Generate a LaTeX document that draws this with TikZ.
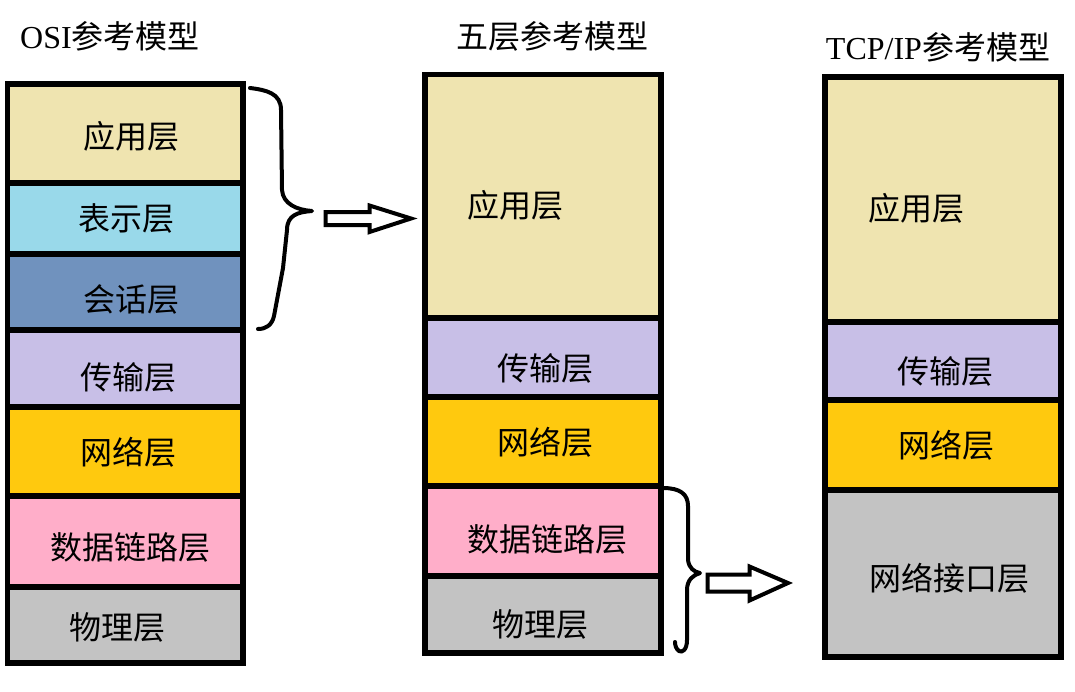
\documentclass[tikz,border=0pt]{standalone}
\usepackage{fontspec}
\setmainfont{Liberation Serif}
\newfontfamily\cjk{Noto Sans CJK SC}
\definecolor{ctan}{HTML}{EFE4B0}
\definecolor{cturq}{HTML}{99D9EA}
\definecolor{cblue}{HTML}{7092BE}
\definecolor{clav}{HTML}{C8BFE7}
\definecolor{cgold}{HTML}{FFC90E}
\definecolor{crose}{HTML}{FFAEC9}
\definecolor{cgray}{HTML}{C3C3C3}
\tikzset{
  cell/.style={draw=black, line width=5.5pt, inner sep=0pt, outer sep=0pt},
  c1/.style={cell, minimum width=235.5pt},
  c2/.style={cell, minimum width=236pt},
  lbl/.style={font=\cjk\fontsize{32}{32}\selectfont, inner sep=0pt},
  ttl/.style={font=\fontsize{32}{32}\selectfont, inner sep=0pt},
  brace/.style={draw=black, line width=4pt, line cap=round, line join=round},
  blockarrow/.style={draw=black, line width=4pt, line join=miter, fill=white}
}
\begin{document}
\begin{tikzpicture}[x=1pt,y=-1pt]
\useasboundingbox (0,0) rectangle (1075,691);
% titles
\node[ttl] (title1) at (110,36) {OSI{\cjk 参考模型}};
\node[ttl] (title2) at (552,36) {\cjk 五层参考模型};
\node[ttl] (title3) at (938,47) {TCP/IP{\cjk 参考模型}};
% OSI column
\node[c1, fill=ctan,  minimum height=99pt] (o1) at (125.25,133.5) {};
\node[c1, fill=cturq, minimum height=71pt] (o2) at (125.25,218.5) {};
\node[c1, fill=cblue, minimum height=76pt] (o3) at (125.25,292) {};
\node[c1, fill=clav,  minimum height=77pt] (o4) at (125.25,368.5) {};
\node[c1, fill=cgold, minimum height=89pt] (o5) at (125.25,451.5) {};
\node[c1, fill=crose, minimum height=91pt] (o6) at (125.25,541.5) {};
\node[c1, fill=cgray, minimum height=76pt] (o7) at (125.25,625) {};
\node[lbl] (lo1) at (131,136) {应用层};
\node[lbl] (lo2) at (126,218) {表示层};
\node[lbl] (lo3) at (131,299) {会话层};
\node[lbl] (lo4) at (128,377) {传输层};
\node[lbl] (lo5) at (128,452) {网络层};
\node[lbl] (lo6) at (130,547) {数据链路层};
\node[lbl] (lo7) at (117,627) {物理层};
% five-layer column
\node[c2, fill=ctan,  minimum height=243.5pt] (f1) at (543,196.25) {};
\node[c2, fill=clav,  minimum height=79pt] (f2) at (543,357.5) {};
\node[c2, fill=cgold, minimum height=89pt] (f3) at (543,441.5) {};
\node[c2, fill=crose, minimum height=90pt] (f4) at (543,531) {};
\node[c2, fill=cgray, minimum height=77pt] (f5) at (543,614.5) {};
\node[lbl] (lf1) at (515,205) {应用层};
\node[lbl] (lf2) at (545,368) {传输层};
\node[lbl] (lf3) at (545,442) {网络层};
\node[lbl] (lf4) at (547,539) {数据链路层};
\node[lbl] (lf5) at (540,624) {物理层};
% TCP/IP column
\node[c2, fill=ctan,  minimum height=245pt] (t1) at (943,199.5) {};
\node[c2, fill=clav,  minimum height=78pt] (t2) at (943,361) {};
\node[c2, fill=cgold, minimum height=90pt] (t3) at (943,445) {};
\node[c2, fill=cgray, minimum height=167pt] (t4) at (943,573.5) {};
\node[lbl] (lt1) at (916,208) {应用层};
\node[lbl] (lt2) at (945,371) {传输层};
\node[lbl] (lt3) at (946,445) {网络层};
\node[lbl] (lt4) at (949,578) {网络接口层};
% brace 1
\coordinate (b1s) at (250,88);
\coordinate (b1t) at (312,211);
\coordinate (b1e) at (258,329);
\draw[brace] (b1s) .. controls (266,90) and (281,93) .. (281,110) -- (282,190)
  .. controls (283,204) and (297,210) .. (b1t)
  .. controls (298,212) and (287,215) .. (287,230) -- (283,268) -- (274,316)
  .. controls (272,325) and (266,329) .. (b1e);
% arrow 1
\draw[blockarrow] (325.5,212) -- (369.5,212) -- (369.5,205.5) -- (411,218.5)
  -- (369.5,232) -- (369.5,225) -- (325.5,225) -- cycle;
% brace 2
\coordinate (b2s) at (663,488);
\coordinate (b2t) at (700,573);
\coordinate (b2e) at (675,642);
\draw[brace] (b2s) .. controls (680,488) and (688,494) .. (688,506) -- (688,560)
  .. controls (689,568) and (694,572) .. (b2t)
  .. controls (693,575) and (687,580) .. (687,590) -- (687,640)
  .. controls (687,650) and (682,653) .. (679,651)
  .. controls (676,649) and (675,645) .. (b2e);
% arrow 2
\draw[blockarrow] (707.5,574.5) -- (749.5,574.5) -- (749.5,566.5) -- (788,583)
  -- (749.5,600.5) -- (749.5,591.5) -- (707.5,591.5) -- cycle;
\end{tikzpicture}
\end{document}
